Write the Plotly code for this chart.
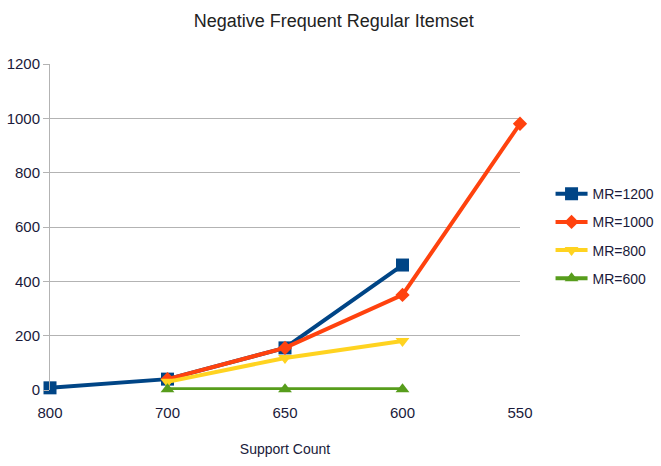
import plotly.graph_objects as go

# Support count categories (x axis) and the itemset counts per MR setting
support = ["800", "700", "650", "600", "550"]

mr1200_x = ["800", "700", "650", "600"]
mr1200_y = [8, 40, 155, 460]

mr1000_x = ["700", "650", "600", "550"]
mr1000_y = [40, 155, 350, 980]

mr800_x = ["700", "650", "600"]
mr800_y = [30, 118, 180]

mr600_x = ["700", "650", "600"]
mr600_y = [3, 3, 3]

series = [
    ("MR=1200", mr1200_x, mr1200_y, "#004586", "square", 13),
    ("MR=1000", mr1000_x, mr1000_y, "#ff420e", "diamond", 11),
    ("MR=800", mr800_x, mr800_y, "#ffd320", "triangle-down", 12),
    ("MR=600", mr600_x, mr600_y, "#579d1c", "triangle-up", 12),
]

font = "Liberation Sans Narrow, Arial Narrow, Liberation Sans, Arial, sans-serif"

fig = go.Figure()
for name, xs, ys, color, symbol, size in series:
    fig.add_trace(go.Scatter(
        x=xs, y=ys, name=name, mode="lines+markers", legendgroup=name,
        line=dict(color=color, width=4), cliponaxis=False,
        marker=dict(symbol=symbol, size=size, color=color),
    ))

fig.update_layout(
    width=661, height=466,
    margin=dict(l=50, r=141, t=64, b=76, autoexpand=False),
    paper_bgcolor="white", plot_bgcolor="white",
    font=dict(family=font, size=14, color="#1a1a3a"),
    title=dict(text="Negative Frequent Regular Itemset", x=0.505, xanchor="center",
               y=0.955, yanchor="middle", font=dict(size=18, family=font, color="#222222")),
    showlegend=True,
    legend=dict(x=1.065, y=0.65, xanchor="left", yanchor="top",
                font=dict(size=14, family=font), tracegroupgap=7,
                itemwidth=32, bgcolor="rgba(0,0,0,0)"),
    xaxis=dict(
        type="category", categoryorder="array", categoryarray=support,
        range=[0, 4], showgrid=False, showline=False, zeroline=False,
        ticks="", tickfont=dict(size=15), ticklabelstandoff=12,
        title=dict(text="Support Count", font=dict(size=14), standoff=24),
    ),
    yaxis=dict(
        range=[0, 1200], dtick=200, showgrid=True, gridcolor="#b3b3b3", gridwidth=1,
        showline=True, linecolor="#b3b3b3", linewidth=1, zeroline=False,
        ticks="outside", ticklen=6, tickcolor="#b3b3b3", tickfont=dict(size=15),
    ),
)

fig.write_html("out.html")
